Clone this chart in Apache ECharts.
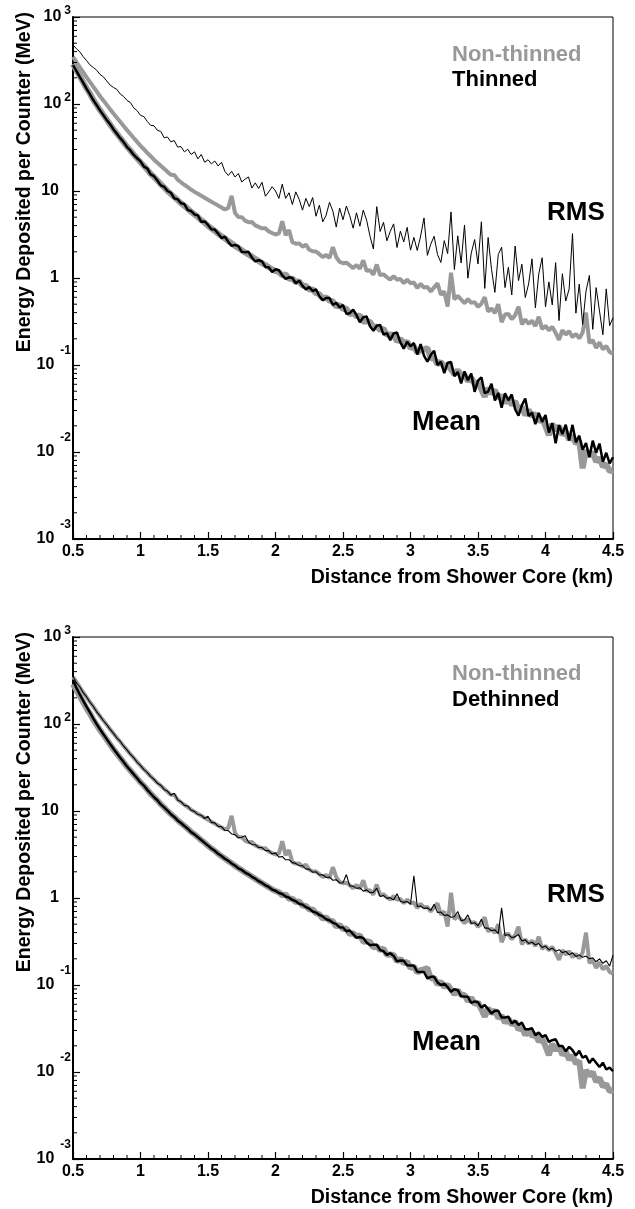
<!DOCTYPE html>
<html><head><meta charset="utf-8">
<script src="https://cdn.jsdelivr.net/npm/echarts@6/dist/echarts.min.js"></script>
<style>html,body{margin:0;padding:0;background:#fff}#c{width:635px;height:1209px}</style>
</head><body><div id="c"></div>
<script>
const distanceKm = [
0.5,0.525,0.55,0.575,0.6,0.625,0.65,0.675,0.7,0.725,
0.75,0.775,0.8,0.825,0.85,0.875,0.9,0.925,0.95,0.975,
1,1.025,1.05,1.075,1.1,1.125,1.15,1.175,1.2,1.225,
1.25,1.275,1.3,1.325,1.35,1.375,1.4,1.425,1.45,1.475,
1.5,1.525,1.55,1.575,1.6,1.625,1.65,1.675,1.7,1.725,
1.75,1.775,1.8,1.825,1.85,1.875,1.9,1.925,1.95,1.975,
2,2.025,2.05,2.075,2.1,2.125,2.15,2.175,2.2,2.225,
2.25,2.275,2.3,2.325,2.35,2.375,2.4,2.425,2.45,2.475,
2.5,2.525,2.55,2.575,2.6,2.625,2.65,2.675,2.7,2.725,
2.75,2.775,2.8,2.825,2.85,2.875,2.9,2.925,2.95,2.975,
3,3.025,3.05,3.075,3.1,3.125,3.15,3.175,3.2,3.225,
3.25,3.275,3.3,3.325,3.35,3.375,3.4,3.425,3.45,3.475,
3.5,3.525,3.55,3.575,3.6,3.625,3.65,3.675,3.7,3.725,
3.75,3.775,3.8,3.825,3.85,3.875,3.9,3.925,3.95,3.975,
4,4.025,4.05,4.075,4.1,4.125,4.15,4.175,4.2,4.225,
4.25,4.275,4.3,4.325,4.35,4.375,4.4,4.425,4.45,4.475,
4.5];

// Non-thinned (grey), shared by both panels
const nonThinnedMean = [
288,245,209,178,151,132,112,97.7,85.1,75.0,
66.1,58.2,51.3,45.7,40.7,36.3,32.4,29.2,26.3,23.7,
21.4,19.5,17.6,15.8,14.5,13.2,12.0,11.0,10.0,9.23,
8.51,7.85,7.24,6.76,6.24,5.75,5.37,5.01,4.62,4.32,
3.98,3.72,3.47,3.24,3.02,2.85,2.66,2.51,2.34,2.21,
2.09,1.97,1.86,1.76,1.66,1.57,1.48,1.41,1.33,1.26,
1.20,1.17,1.07,1.10,0.98,0.98,0.90,0.91,0.82,0.81,
0.74,0.74,0.67,0.65,0.58,0.60,0.55,0.54,0.47,0.49,
0.44,0.445,0.385,0.394,0.362,0.372,0.315,0.318,0.313,0.271,
0.277,0.252,0.262,0.222,0.224,0.221,0.187,0.200,0.178,0.185,
0.157,0.163,0.139,0.148,0.151,0.157,0.119,0.121,0.102,0.109,
0.0948,0.101,0.089,0.078,0.0871,0.0765,0.0771,0.0653,0.0713,0.0605,
0.0631,0.0523,0.0433,0.0543,0.047,0.0514,0.0416,0.0445,0.0368,0.0411,
0.0348,0.0381,0.0308,0.0329,0.0266,0.0305,0.0258,0.0275,0.0223,0.0244,
0.0197,0.0156,0.021,0.0178,0.0199,0.0157,0.0172,0.0139,0.0155,0.0125,
0.0134,0.0065,0.0105,0.0091,0.0100,0.0077,0.0086,0.0068,0.0073,0.0060,
0.0062];

const nonThinnedRms = [
347,304,266,233,204,180,158,140,123,110,
97.7,87.1,77.6,69.6,62.4,55.9,50.1,45.2,40.7,36.7,
33.1,30.2,27.5,25.1,22.9,21.1,19.5,18.0,16.6,15.4,
15.3,13.5,12.6,11.8,11.1,10.4,9.77,9.28,8.81,8.37,
7.94,7.54,7.16,6.80,6.46,6.13,6.4,8.8,5.6,5.01,
5.0,4.57,4.37,4.4,4.03,3.87,3.72,3.73,3.43,3.29,
3.16,3.25,4.5,3.1,3.55,2.58,2.48,2.5,2.29,2.42,
2.11,2.03,2.02,1.88,1.74,1.84,1.70,2.27,1.74,1.53,
1.48,1.50,1.40,1.30,1.41,1.28,1.60,1.21,1.23,1.09,
1.43,1.08,1.10,1.02,0.955,1.05,0.955,0.977,0.871,0.955,
0.871,0.886,0.767,0.856,0.776,0.79,0.70,0.78,0.871,0.642,
0.70,0.47,1.15,0.57,0.624,0.566,0.513,0.572,0.519,0.528,
0.468,0.507,0.603,0.412,0.447,0.396,0.50,0.31,0.380,0.387,
0.335,0.374,0.468,0.293,0.335,0.297,0.324,0.280,0.359,0.259,
0.282,0.251,0.275,0.234,0.195,0.251,0.224,0.245,0.209,0.228,
0.202,0.236,0.40,0.179,0.193,0.157,0.182,0.151,0.166,0.141,
0.135];

// Thinned (black, top panel)
const thinnedMean = [
280,240,205,176,150,130,111,97,84.5,74.5,
65.5,58.5,51,45.5,40.5,36.5,32,29.3,26,23.8,
21.9,19.1,18.2,15.5,14.8,13.2,11.6,11.2,10.0,9.55,
8.22,8.04,7.24,7.08,6.03,5.89,5.37,5.25,4.42,4.47,
4.07,3.63,3.60,3.24,2.88,2.99,2.60,2.34,2.40,2.32,
2.00,1.97,2.00,1.72,1.55,1.60,1.55,1.34,1.33,1.17,
1.26,1.23,1.07,0.977,1.02,1.00,0.871,0.933,0.813,0.741,
0.785,0.708,0.741,0.617,0.556,0.589,0.589,0.490,0.519,0.457,
0.490,0.387,0.394,0.432,0.374,0.310,0.354,0.361,0.279,0.248,
0.283,0.289,0.223,0.233,0.193,0.231,0.236,0.182,0.154,0.185,
0.164,0.179,0.132,0.174,0.128,0.109,0.130,0.146,0.100,0.109,
0.0807,0.106,0.108,0.0745,0.0832,0.0615,0.0845,0.0668,0.080,0.0492,
0.0661,0.0721,0.0474,0.0495,0.0607,0.039,0.0478,0.0322,0.0474,0.0393,
0.0459,0.031,0.0262,0.0344,0.0412,0.0259,0.0283,0.0209,0.0281,0.0222,
0.0266,0.0167,0.0214,0.0126,0.0203,0.0161,0.0206,0.0136,0.0205,0.0129,
0.0154,0.0106,0.0127,0.0087,0.0135,0.0098,0.0125,0.0077,0.0098,0.0074,
0.0087];

const thinnedRms = [
479,432,398,351,316,282,263,245,219,205,
184,165,155,147,130,122,110,104,90.2,83.7,
74.1,71.6,63.1,56.9,56.2,49.8,48.4,41.0,41.7,36.7,
38.0,32.0,32.4,28.2,30.2,26.3,28.2,23.4,26.3,21.4,
22.9,20.5,22.1,19.4,21.4,16.8,15.1,16.8,14.5,15.9,
12.7,13.7,14.5,10.8,12.4,10.7,12.6,8.71,9.77,11.2,
10.0,8.22,12.0,8.22,9.55,7.0,9.77,8.04,6.03,8.22,
6.61,8.41,5.13,6.88,4.42,5.28,7.41,5.86,3.85,6.35,
4.68,6.72,5.19,3.74,5.62,3.94,6.03,4.62,3.02,2.16,
6.61,3.43,4.37,2.68,3.43,4.19,2.24,3.45,2.60,3.82,
2.09,2.93,2.07,3.04,4.90,1.82,2.45,3.02,1.86,1.51,
2.69,1.91,5.75,1.25,3.05,1.49,4.07,0.995,1.93,2.77,
1.45,4.42,0.759,2.92,1.26,0.684,1.86,2.26,0.776,1.33,
0.638,2.33,0.933,1.44,0.596,0.856,1.66,0.454,1.11,1.71,
0.468,0.902,0.49,1.50,0.324,1.12,0.543,0.746,3.24,0.394,
0.851,0.292,0.708,1.07,0.257,0.776,0.417,0.223,0.75,0.283,
0.35];

// Dethinned (black, bottom panel)
const dethinnedMean = [
320,260,219,186,158,136,116,100,87.1,76.2,
67.0,58.9,51.9,46.1,41.0,36.6,32.5,29.3,26.4,23.8,
21.3,19.6,17.5,15.9,14.4,13.3,11.9,11.0,10.1,9.18,
8.55,7.80,7.28,6.72,6.26,5.72,5.39,4.98,4.64,4.30,
4.00,3.70,3.49,3.22,3.04,2.83,2.68,2.49,2.36,2.19,
2.10,1.96,1.87,1.75,1.67,1.56,1.49,1.40,1.34,1.25,
1.21,1.14,1.11,1.04,1.01,0.95,0.92,0.86,0.84,0.785,
0.755,0.70,0.68,0.64,0.615,0.57,0.555,0.52,0.50,0.46,
0.457,0.415,0.423,0.385,0.349,0.356,0.346,0.308,0.286,0.291,
0.290,0.252,0.245,0.222,0.232,0.216,0.187,0.191,0.190,0.169,
0.168,0.167,0.142,0.141,0.141,0.119,0.124,0.124,0.107,0.0998,
0.104,0.0946,0.0839,0.0895,0.0871,0.0740,0.0736,0.0733,0.0621,0.0649,
0.0631,0.055,0.059,0.0528,0.0471,0.0505,0.0506,0.0422,0.0423,0.0433,
0.0361,0.0388,0.0346,0.0371,0.0309,0.031,0.0318,0.0265,0.0284,0.0254,
0.0266,0.0222,0.0232,0.0238,0.0199,0.0199,0.0173,0.0195,0.0178,0.0155,
0.0175,0.0146,0.0153,0.0127,0.0143,0.0128,0.0114,0.0128,0.0107,0.0112,
0.0102];

const dethinnedRms = [
355,296,268,230,206,178,160,138,124,109,
98.5,86.5,78.0,69.0,63.0,55.5,50.5,44.8,41.0,36.3,
33.4,29.9,27.8,24.8,23.2,20.8,19.8,17.7,16.9,15.2,
16.0,13.4,12.8,11.6,11.4,10.2,9.9,9.1,8.95,8.2,
8.7,7.4,7.3,6.65,6.6,6.0,5.95,5.45,5.35,4.95,
5.0,5.2,4.4,4.1,4.1,3.8,3.8,3.5,3.5,3.2,
3.3,2.95,3.0,2.75,2.75,2.55,2.5,2.35,2.35,2.15,
2.15,1.98,2.0,1.84,1.85,1.72,1.74,1.60,1.62,1.49,
1.50,1.86,1.38,1.37,1.29,1.31,1.20,1.24,1.15,1.16,
1.30,1.04,1.07,0.99,1.01,0.95,1.12,0.92,0.89,0.91,
0.85,1.80,0.80,0.81,0.76,0.77,0.72,0.85,0.68,0.69,
0.63,0.64,0.60,0.61,0.70,0.55,0.56,0.64,0.51,0.52,
0.48,0.57,0.45,0.45,0.42,0.43,0.39,0.77,0.37,0.38,
0.35,0.36,0.38,0.32,0.33,0.30,0.31,0.29,0.30,0.27,
0.28,0.255,0.265,0.245,0.255,0.235,0.245,0.222,0.235,0.212,
0.222,0.208,0.215,0.20,0.205,0.185,0.20,0.178,0.19,0.165,
0.22];

const xTickValues = [0.5,1,1.5,2,2.5,3,3.5,4,4.5];
const yTickValues = [0.001,0.01,0.1,1,10,100,1000];
const yMinorMultipliers = [2,3,4,5,6,7,8,9];
const xTitle = 'Distance from Shower Core (km)';
const yTitle = 'Energy Deposited per Counter (MeV)';

const FONT = "'Liberation Sans', Arial, Helvetica, sans-serif";
const GRAY = '#999999';
const yMinorValues = [];
yTickValues.slice(0, -1).forEach(d => yMinorMultipliers.forEach(m => yMinorValues.push(+(d * m).toPrecision(3))));
const xMinorValues = [];
xTickValues.slice(0, -1).forEach(t => [1,2,3,4].forEach(k => xMinorValues.push(+(t + 0.1 * k).toFixed(2))));

const pairs = arr => distanceKm.map((d, i) => [d, arr[i]]);

function yLabel(v) {
  const e = Math.round(Math.log10(v));
  if (e === 0) return '{b|1}{gap| }';
  if (e === 1) return '{b|10}{gap| }';
  return e > 0 ? '{b|10}{sp|' + e + '}' : '{b|10}{sn|' + e + '}';
}

const panels = [
  {top: 17, black: 'Thinned', mean: thinnedMean, rms: thinnedRms, rmsWidth: 1},
  {top: 637, black: 'Dethinned', mean: dethinnedMean, rms: dethinnedRms, rmsWidth: 1.1}
];

const grids = [], xAxes = [], yAxes = [], series = [], graphics = [];
panels.forEach((p, g) => {
  grids.push({left: 73, top: p.top, width: 540, height: 522, show: true,
    borderColor: '#000', borderWidth: 1, backgroundColor: 'transparent'});
  xAxes.push({gridIndex: g, type: 'value', min: 0.5, max: 4.5, interval: 0.5,
    axisLine: {show: true, onZero: false, lineStyle: {color: '#000', width: 2}},
    axisTick: {show: true, inside: true, length: 7, lineStyle: {color: '#000', width: 1.2}},
    minorTick: {show: false},
    splitLine: {show: false},
    axisLabel: {color: '#000', fontFamily: FONT, fontWeight: 'bold', fontSize: 16, margin: 5,
      formatter: v => String(v)}});
  yAxes.push({gridIndex: g, type: 'log', logBase: 10, min: 0.001, max: 1000, splitNumber: 6,
    axisLine: {show: true, lineStyle: {color: '#000', width: 2}},
    axisTick: {show: true, inside: true, length: 7, lineStyle: {color: '#000', width: 1.2}},
    splitLine: {show: false},
    axisLabel: {margin: 2, formatter: yLabel,
      rich: {
        b: {fontFamily: FONT, fontWeight: 'bold', fontSize: 16, color: '#000'},
        gap: {width: 12, fontSize: 16},
        sp: {fontFamily: FONT, fontWeight: 'bold', fontSize: 12, color: '#000', padding: [0, 0, 12, 3]},
        sn: {fontFamily: FONT, fontWeight: 'bold', fontSize: 12, color: '#000', padding: [0, 0, 28, 6]}
      }}});
  const common = {type: 'line', xAxisIndex: g, yAxisIndex: g, showSymbol: false, symbol: 'none',
    animation: false, silent: true};
  series.push(Object.assign({}, common, {name: 'Non-thinned RMS', data: pairs(nonThinnedRms),
    lineStyle: {color: GRAY, width: 4}}));
  series.push(Object.assign({}, common, {name: 'Non-thinned Mean', data: pairs(nonThinnedMean),
    lineStyle: {color: GRAY, width: 6}}));
  series.push(Object.assign({}, common, {name: p.black + ' RMS', data: pairs(p.rms),
    lineStyle: {color: '#000', width: p.rmsWidth}}));
  series.push(Object.assign({}, common, {name: p.black + ' Mean', data: pairs(p.mean),
    lineStyle: {color: '#000', width: 2.5}}));
  // minor ticks on the log y axis (2..9 x each decade)
  series.push({type: 'custom', xAxisIndex: g, yAxisIndex: g, silent: true, animation: false, clip: false, z: 5,
    data: yMinorValues.map(v => [0.5, v]),
    renderItem: (params, api) => {
      const c = api.coord([api.value(0), api.value(1)]);
      return {type: 'line', shape: {x1: c[0], y1: c[1], x2: c[0] + 4, y2: c[1]},
        style: {stroke: '#000', lineWidth: 1}};
    }});
  // minor ticks on the x axis (every 0.1 km)
  series.push({type: 'custom', xAxisIndex: g, yAxisIndex: g, silent: true, animation: false, clip: false, z: 5,
    data: xMinorValues.map(v => [v, 0.001]),
    renderItem: (params, api) => {
      const c = api.coord([api.value(0), api.value(1)]);
      return {type: 'line', shape: {x1: c[0], y1: c[1], x2: c[0], y2: c[1] - 4},
        style: {stroke: '#000', lineWidth: 1}};
    }});
  const off = p.top - 17;
  const txt = (x, y, text, size, color, align, extra) => Object.assign({
    type: 'text', x: x, y: y, silent: true,
    style: {text: text, fill: color, font: 'bold ' + size + 'px ' + FONT,
      textAlign: align, align: align, textVerticalAlign: 'middle', verticalAlign: 'middle'}}, extra || {});
  graphics.push(txt(452, 55 + off + (g ? -1.5 : 0), 'Non-thinned', 22, GRAY, 'left'));
  graphics.push(txt(452, 80 + off, p.black, 22, '#000', 'left'));
  graphics.push(txt(547, 213 + off + (g ? 62 : 0), 'RMS', 26, '#000', 'left'));
  graphics.push(txt(412, 422.5 + off, 'Mean', 27, '#000', 'left'));
  graphics.push(txt(613, 578 + off, xTitle, 19.5, '#000', 'right'));
  graphics.push(txt(25, 12 + off, yTitle, 19.5, '#000', 'right', {rotation: Math.PI / 2}));
});

const chart = echarts.init(document.getElementById('c'), null, {renderer: 'canvas', width: 635, height: 1209});
chart.setOption({
  animation: false,
  backgroundColor: '#fff',
  grid: grids, xAxis: xAxes, yAxis: yAxes, series: series, graphic: {elements: graphics}
});
</script></body></html>
